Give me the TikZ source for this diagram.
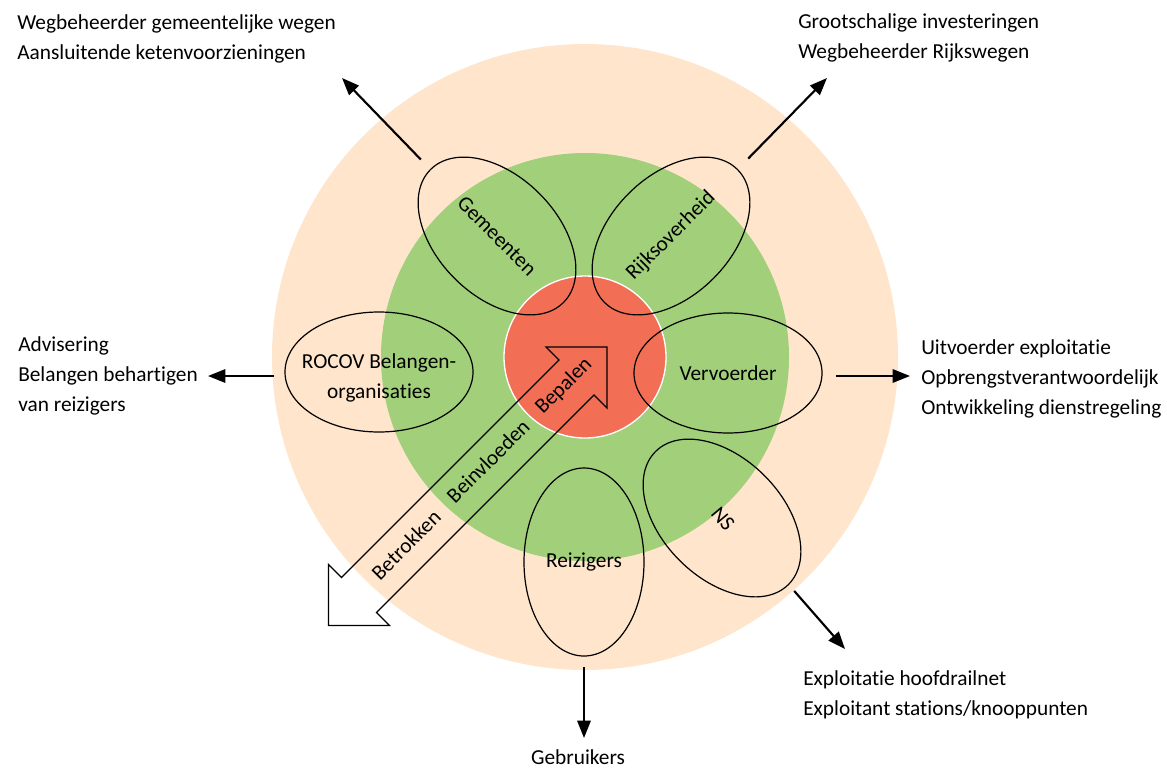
\documentclass[tikz,border=0pt]{standalone}
\usepackage{fontspec}
\setmainfont[Ligatures=NoCommon]{Carlito}
\usetikzlibrary{shapes.geometric,arrows.meta}
\definecolor{peach}{HTML}{FEE5CC}
\definecolor{leaf}{HTML}{A1CF7A}
\definecolor{tomato}{HTML}{F26E55}
\begin{document}
\begin{tikzpicture}[x=0.75pt,y=-0.75pt,
  every node/.style={font=\fontsize{16}{22.5}\selectfont, inner sep=0pt},
  petal/.style={ellipse, draw=black, line width=0.9pt, minimum width=141pt, minimum height=90pt, inner sep=0pt},
  stub/.style={-{Triangle[length=13pt,width=10pt]}, line width=1.6pt},
  lbl/.style={align=left, anchor=base west},
]
\useasboundingbox (0,0) rectangle (1167,768);
% rings
\fill[peach] (585,357) circle[radius=234.75pt];
\fill[leaf] (585,357) circle[radius=153pt];
\filldraw[fill=tomato, draw=white, line width=1pt] (585,357) circle[radius=60.75pt];
% big double arrow
\draw[line width=0.9pt, line join=miter] (607,347) -- (546,347) -- (559,360) -- (341.5,577.5) -- (328.5,564.5) -- (328.5,625.5) -- (389.5,625.5) -- (376.5,612.5) -- (594,395) -- (607,408) -- cycle;
\node[rotate=45] (bep) at (564,386) {Bepalen};
\node[rotate=45] (bei) at (488,461) {Beinvloeden};
\node[rotate=45] (bet) at (406,545) {Betrokken};
% petals
\node[petal, rotate=-45] (gem) at (497,236) {Gemeenten};
\node[petal, rotate=45] (rijk) at (671,236) {Rijksoverheid};
\node[petal] (roc) at (379,372) {};
\node[align=center] (roct) at (379,378) {ROCOV Belangen-\\organisaties};
\node[petal] (ver) at (728,373) {Vervoerder};
\node[petal, rotate=-45] (nse) at (722,518) {};
\node[rotate=-50] (nst) at (723,519) {NS};
\node[petal, minimum width=90pt, minimum height=141pt] (rei) at (584,562) {Reizigers};
% outgoing arrows
\coordinate (gemT) at (342,78);
\coordinate (rijkT) at (827,78);
\coordinate (rocT) at (208,376);
\coordinate (verT) at (910,376);
\coordinate (reiT) at (584,738);
\coordinate (nsT) at (845,649);
\draw[stub, shorten <=10pt] (gem.west) -- (gemT);
\draw[stub, shorten <=11pt] (rijk.east) -- (rijkT);
\draw[stub, shorten <=8pt] ([yshift=-3pt]roc.west) -- (rocT);
\draw[stub, shorten <=10pt] ([yshift=-2.25pt]ver.east) -- (verT);
\draw[stub, shorten <=8pt] (rei.south) -- (reiT);
\draw[stub, shorten <=6pt] (nse.east) -- (nsT);
% outer texts (anchored at the baseline of their last line)
\node[lbl] (tl) at (17,59) {Wegbeheerder gemeentelijke wegen\\Aansluitende ketenvoorzieningen};
\node[lbl] (tr) at (798,58) {Grootschalige investeringen\\Wegbeheerder Rijkswegen};
\node[lbl] (lt) at (18,411) {Advisering\\Belangen behartigen\\van reizigers};
\node[lbl] (rt) at (921,414) {Uitvoerder exploitatie\\Opbrengstverantwoordelijk\\Ontwikkeling dienstregeling};
\node[lbl] (br) at (803,715) {Exploitatie hoofdrailnet\\Exploitant stations/knooppunten};
\node[anchor=base] (geb) at (578,764) {Gebruikers};
\end{tikzpicture}
\end{document}
